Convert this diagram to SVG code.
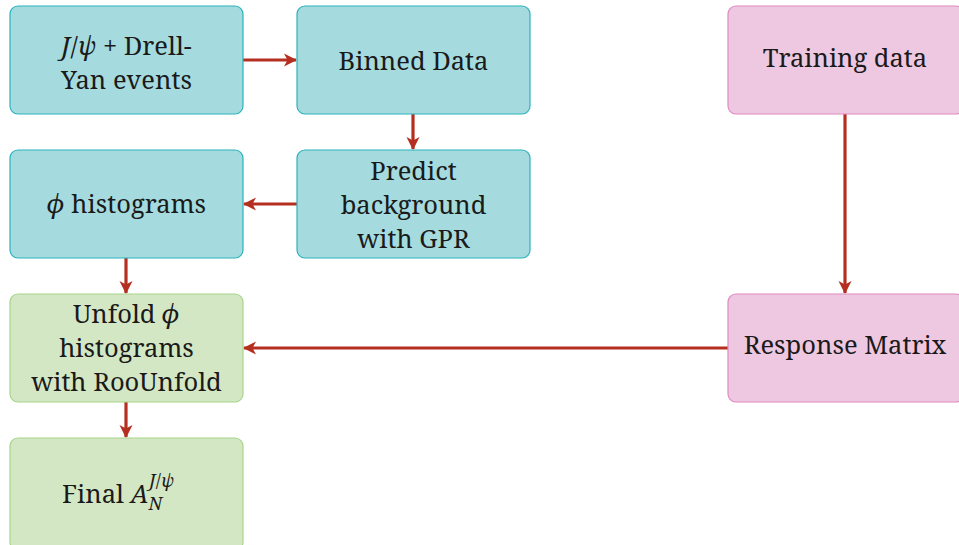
<svg xmlns="http://www.w3.org/2000/svg" width="959" height="545" viewBox="0 0 959 545">
<defs>
<marker id="a" markerUnits="userSpaceOnUse" markerWidth="16" markerHeight="16" refX="13" refY="8" orient="auto">
<path d="M1,1.5 L14,8 L1,14.5 L4.5,8 Z" fill="#b52f20"/>
</marker>
</defs>
<g id="connectors" stroke="#b52f20" stroke-width="3.2" fill="none" marker-end="url(#a)">
<path d="M243,60 H296"/>
<path d="M413,114 V149"/>
<path d="M297,204 H244"/>
<path d="M126,258 V293"/>
<path d="M126,402 V437"/>
<path d="M845,114 V293"/>
<path d="M728,348 H244"/>
</g>
<g id="n1"><rect fill="#a5dbdf" stroke="#2ab3bd" stroke-width="1.2" x="10" y="6" width="233" height="108" rx="8"/>
<text font-family="Noto Serif" font-size="25.5" fill="#1a1a1a" text-anchor="middle" x="126.5" y="55"><tspan font-style="italic">J</tspan>/<tspan font-style="italic">ψ</tspan> + Drell-</text><text font-family="Noto Serif" font-size="25.5" fill="#1a1a1a" text-anchor="middle" x="126.5" y="89">Yan events</text></g>
<g id="n2"><rect fill="#a5dbdf" stroke="#2ab3bd" stroke-width="1.2" x="297" y="6" width="233" height="108" rx="8"/>
<text font-family="Noto Serif" font-size="25.5" fill="#1a1a1a" text-anchor="middle" x="413.5" y="70">Binned Data</text></g>
<g id="n3"><rect fill="#a5dbdf" stroke="#2ab3bd" stroke-width="1.2" x="297" y="150" width="233" height="108" rx="8"/>
<text font-family="Noto Serif" font-size="25.5" fill="#1a1a1a" text-anchor="middle" x="413.5" y="180">Predict</text><text font-family="Noto Serif" font-size="25.5" fill="#1a1a1a" text-anchor="middle" x="413.5" y="214">background</text><text font-family="Noto Serif" font-size="25.5" fill="#1a1a1a" text-anchor="middle" x="413.5" y="248">with GPR</text></g>
<g id="n4"><rect fill="#a5dbdf" stroke="#2ab3bd" stroke-width="1.2" x="10" y="150" width="233" height="108" rx="8"/>
<text font-family="Noto Serif" font-size="25.5" fill="#1a1a1a" text-anchor="middle" x="126.5" y="213"><tspan font-style="italic">ϕ</tspan> histograms</text></g>
<g id="n5"><rect fill="#d4e7c5" stroke="#a6d58a" stroke-width="1.2" x="10" y="294" width="233" height="108" rx="8"/>
<text font-family="Noto Serif" font-size="25.5" fill="#1a1a1a" text-anchor="middle" x="126.5" y="323">Unfold <tspan font-style="italic">ϕ</tspan></text><text font-family="Noto Serif" font-size="25.5" fill="#1a1a1a" text-anchor="middle" x="126.5" y="357">histograms</text><text font-family="Noto Serif" font-size="25.5" fill="#1a1a1a" text-anchor="middle" x="126.5" y="391">with RooUnfold</text></g>
<g id="n6"><rect fill="#d4e7c5" stroke="#a6d58a" stroke-width="1.2" x="10" y="438" width="233" height="112" rx="8"/>
<text font-family="Noto Serif" font-size="25.5" fill="#1a1a1a" x="62" y="503">Final <tspan font-style="italic">A</tspan><tspan font-style="italic" font-size="18" dy="7">N</tspan><tspan font-style="italic" font-size="18" dx="-13" dy="-23">J</tspan><tspan font-size="18">/</tspan><tspan font-style="italic" font-size="18">ψ</tspan></text></g>
<g id="n7"><rect fill="#eec8e1" stroke="#de8ac0" stroke-width="1.2" x="728" y="6" width="236" height="108" rx="8"/>
<text font-family="Noto Serif" font-size="25.5" fill="#1a1a1a" text-anchor="middle" x="845" y="67">Training data</text></g>
<g id="n8"><rect fill="#eec8e1" stroke="#de8ac0" stroke-width="1.2" x="728" y="294" width="236" height="108" rx="8"/>
<text font-family="Noto Serif" font-size="25.5" fill="#1a1a1a" text-anchor="middle" x="845" y="354">Response Matrix</text></g>
</svg>
